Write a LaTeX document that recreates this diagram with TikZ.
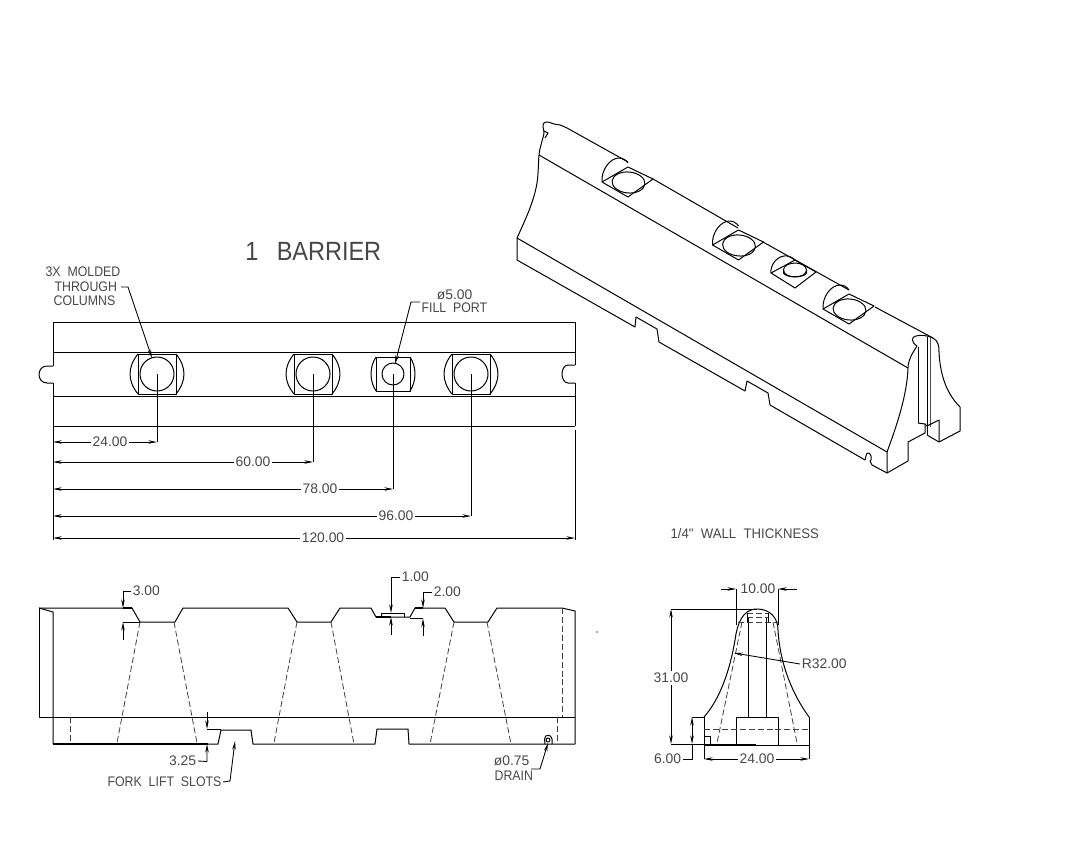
\documentclass[tikz,border=0pt]{standalone}
\usepackage{fontspec}
\usetikzlibrary{arrows.meta}
\setmainfont{Liberation Sans}
\newfontfamily\capsfont{Liberation Sans}[FakeStretch=0.89]
\newfontfamily\widecapsfont{Liberation Sans}[FakeStretch=0.95]
\newfontfamily\titlefont{Liberation Sans}[FakeStretch=0.89]
\tikzset{
  x=0.75pt,y=-0.75pt,
  ln/.style={line width=0.75pt,black,line join=round},
  thick ln/.style={line width=1.4pt,black},
  dsh/.style={line width=0.6pt,black!75,dash pattern=on 4.5pt off 2.2pt},
  dim/.style={line width=0.65pt,black},
  tip/.style={-{Stealth[length=6.5pt,width=2.6pt]}},
  tips/.style={{Stealth[length=6.5pt,width=2.6pt]}-{Stealth[length=6.5pt,width=2.6pt]}},
  num/.style={font=\fontsize{10.4}{12}\selectfont,text=black!72,inner sep=1.2pt},
  captxt/.style={font=\capsfont\fontsize{10.4}{12}\selectfont,text=black!72,inner sep=1pt},
  ttl/.style={font=\titlefont\fontsize{19.8}{22}\selectfont,text=black!72,inner sep=0pt}
}
\newcommand{\plancol}[5]{% cx, square half width, half height, arc x half, circle r
  \draw[ln] (#1-#2,374-#3) rectangle (#1+#2,374+#3);
  \draw[ln] (#1-#2,374-#3) .. controls ({#1-#2-(#4-#2)*1.33},367) and ({#1-#2-(#4-#2)*1.33},381) .. (#1-#2,374+#3);
  \draw[ln] (#1+#2,374-#3) .. controls ({#1+#2+(#4-#2)*1.33},367) and ({#1+#2+(#4-#2)*1.33},381) .. (#1+#2,374+#3);
  \draw[ln] (#1,374) circle [radius=#5];
}
\newcommand{\isocol}[2]{%
  \begin{scope}[shift={(#1,#2)}]
    \draw[ln] (602,182) -- (628,167) -- (653,179) -- (628,197) -- cycle;
    \draw[ln] (602,182) .. controls (601,170) and (610,158) .. (619,158) .. controls (623,158) and (626,160) .. (628,163);
    \draw[ln,shift={(628.5,182.5)},rotate=-5] (0,0) ellipse [x radius=16.5,y radius=10.5];
  \end{scope}
}
\begin{document}
\begin{tikzpicture}
\useasboundingbox (0,0) rectangle (1092,845);

%---------- isometric view
\draw[ln] plot[smooth,tension=.6] coordinates {(567,128) (560,125) (554,124) (548,122) (544,123) (543,127) (544,133) (541,145) (539,155) (537,183) (530,208) (517,238)};
\draw[ln] (544,131) -- (548,133) -- (545,138);
\draw[ln] (567,128) -- (628,162);
\draw[ln] (653,179) -- (738,228);
\draw[ln] (763,242) -- (849,290);
\draw[ln] (875,307) -- (933,338);
\draw[ln] (539,155) -- (908,368);
\draw[ln] (517,238) -- (887,452);
\draw[ln] (517,238) -- (517,260) -- (635,327) -- (636,317) -- (657,329) -- (659,342) -- (745,391) -- (747,381) -- (768,393) -- (770,405) -- (865,460);
\draw[ln] (865,460) -- (866,456) .. controls (866,452) and (870,452) .. (871,456) -- (871,460) -- (870,461) -- (872,465) -- (887,473) -- (887,452);
\isocol{0}{0}
\isocol{110.5}{63}
\isocol{221}{127}
% fill port
\draw[ln] (771,273) -- (795,260) -- (816,272) -- (795,288) -- cycle;
\draw[ln] (771,273) .. controls (770,266) and (776,257) .. (784,256) .. controls (788,255.5) and (792,257) .. (795,260);
\draw[ln] (795,270) ellipse [x radius=11.5,y radius=7];
\draw[ln] (783.5,270) -- (783.5,273) .. controls (785,278) and (805,278) .. (806.5,273) -- (806.5,270);
% near end profile
\draw[ln] (933,338) .. controls (927,335) and (920,335) .. (916,336) .. controls (911,337) and (911,342) .. (917,346) .. controls (913,352) and (908,360) .. (908,368) .. controls (907,395) and (897,425) .. (887,452);
\draw[ln] (887,473) -- (908,461) -- (908,442) -- (925,433) -- (925,424) -- (918,423);
\draw[ln] (918,347) -- (918,423);
\draw[ln] (927,337) -- (927,435);
\draw[line width=0.5pt,black!70] (930,338) -- (930,427);
\draw[ln] (925,424) -- (927,426) -- (939,420) -- (939,442);
\draw[ln] (927,435) -- (939,442) -- (960,431) -- (960,407);
\draw[ln] (933,338) .. controls (938,341) and (939,345) .. (939,352) .. controls (940,372) and (945,392) .. (960,407);

%---------- title
\node[ttl,anchor=west] (ttlnum) at (245,251) {1};
\node[ttl,anchor=west] (ttlword) at (276.5,251) {BARRIER};

%---------- top view
\draw[ln] (53,383) -- (53,540);
\draw[ln] (53,366) -- (53,322) -- (575,322) -- (575,365);
\draw[ln] (575,383) -- (575,426);
\draw[ln] (575,430) -- (575,540);
\draw[ln] (53,352) -- (575,352);
\draw[ln] (53,396) -- (575,396);
\draw[ln] (53,426) -- (575,426);
\draw[ln] (53,366) -- (47,366) .. controls (42,366) and (39,370) .. (39,374.5) .. controls (39,379) and (42,383) .. (47,383) -- (53,383);
\draw[ln] (575,365) -- (568,365) .. controls (564,365) and (562,370) .. (562,374) .. controls (562,378) and (564,383) .. (568,383) -- (575,383);
\plancol{157}{19}{20}{27}{17}
\plancol{313}{19}{20}{27}{17}
\plancol{393}{17}{17}{22}{11}
\plancol{471}{19}{20}{27}{17}

\node[num] (d24) at (110,442) {24.00};
\node[num] (d60) at (253,462) {60.00};
\node[num] (d78) at (320,489) {78.00};
\node[num] (d96) at (396,516) {96.00};
\node[num] (d120) at (323,538) {120.00};
\foreach \n/\xx/\yy in {d24/157/442,d60/313/462,d78/393/489,d96/471/516,d120/575/538}{
  \draw[dim,tip] (\n.west) -- (53,\yy);
  \draw[dim,tip] (\n.east) -- (\xx,\yy);
}
\draw[dim] (157,374) -- (157,442);
\draw[dim] (313,374) -- (313,462);
\draw[dim] (393,374) -- (393,489);
\draw[dim] (471,374) -- (471,516);

\node[captxt,anchor=west] (m1) at (44,272) {3X~~MOLDED};
\node[captxt,anchor=west] (m2) at (53,287) {THROUGH};
\node[captxt,anchor=west] (m3) at (52,301) {COLUMNS};
\draw[dim,tip] (121,287) -- (128,287) -- (152,358);
\node[num,anchor=west] (p1) at (435,295) {ø5.00};
\node[captxt,anchor=west] (p2) at (420,308) {FILL~~PORT};
\draw[dim,tip] (420,302) -- (411,302) -- (395,364);

%---------- front view
\draw[ln] (39,608) -- (132,608) -- (140,622) -- (175,622) -- (183,608) -- (288,608) -- (297,622) -- (331,622) -- (340,608) -- (371,608) -- (376,617) -- (410,617) -- (415,608) -- (445,608) -- (454,622) -- (488,622) -- (497,608) -- (562,608) -- (575,611) -- (575,744);
\draw[ln] (39,608) -- (39,717) -- (575,717);
\draw[ln] (39,608) -- (53,612) -- (53,744);
\draw[ln] (381,617) -- (381,613) -- (404,613) -- (404,617);
\draw[ln] (53,744) -- (218,744) -- (221,730) -- (251,730) -- (253,744) -- (375,744) -- (377,729) -- (408,729) -- (409,744) -- (575,744);
\draw[thick ln] (53,744) -- (208,744);
\draw[dsh] (70,717) -- (70,743);
\draw[dsh] (562,608) -- (562,717);
\draw[dsh] (557,717) -- (557,744);
\draw[dsh] (140,622) -- (117,743);
\draw[dsh] (174,622) -- (197,743);
\draw[dsh] (297,622) -- (274,743);
\draw[dsh] (331,622) -- (354,744);
\draw[dsh] (454,622) -- (430,744);
\draw[dsh] (487,622) -- (511,744);

\node[num,anchor=west] (t300) at (131,591) {3.00};
\draw[dim,tip] (t300.west) -- (123,591) -- (123,608);
\draw[thick ln] (123,608) -- (132,608);
\draw[dim] (123,622) -- (140,622);
\draw[dim,tip] (123,640) -- (123,622);

\node[num,anchor=east] (t325) at (198,761) {3.25};
\draw[dim,tip] (t325.east) -- (207,761.5) -- (207,744);
\draw[dim,tip] (207,712) -- (207,729);
\draw[dim] (207,729) -- (221,729);

\node[captxt,anchor=west] (fork) at (106,782) {FORK~~LIFT~~SLOTS};
\draw[dim,tip] (fork.east) -- (230,781) -- (235,741);

\node[num,anchor=west] (t100) at (400,577) {1.00};
\draw[dim,tip] (t100.west) -- (391,577) -- (391,613);
\draw[dim,tip] (391,635) -- (391,617);
\draw[thick ln] (376,617) -- (391,617);

\node[num,anchor=west] (t200) at (432,592) {2.00};
\draw[dim,tip] (t200.west) -- (423,592) -- (423,608);
\draw[thick ln] (415,608) -- (423,608);
\draw[dim] (410,618) -- (423,618);
\draw[dim,tip] (423,636) -- (423,618.5);

\draw[ln] (545,744) -- (544.5,739) .. controls (544.5,734) and (551.5,734) .. (552,739) -- (552,744);
\draw[ln] (548,740) circle [radius=2];
\node[num,anchor=west] (dr1) at (492,761) {ø0.75};
\node[captxt,anchor=west] (dr2) at (493,776) {DRAIN};
\draw[dim,tip] (531,769) -- (540,769) -- (548,743);

\fill[black!70] (597,632) circle [radius=0.9];

%---------- end view
\node[captxt,anchor=west,font=\widecapsfont\fontsize{10.4}{12}\selectfont] (wall) at (669,534) {1/4"~~WALL~~THICKNESS};
\draw[ln] (704,717) -- (704,745) -- (809,745) -- (809,717);
\draw[ln] (704,717) .. controls (720,699) and (730,670) .. (735,640) .. controls (737,625) and (742,609) .. (757,609) .. controls (770,609) and (778,618) .. (778,630) .. controls (780,665) and (793,695) .. (809,717);
\draw[ln] (736,745) -- (736,717) -- (778,717) -- (778,745);
\draw[ln] (748,618) -- (748,717);
\draw[ln] (766,618) -- (766,717);
\draw[dsh] (704,729) -- (809,729);
\draw[dsh] (738,622) -- (778,622);
\draw[dsh] (747,613) -- (768,613);
\draw[dsh] (747,617) -- (768,617);
\draw[ln] (747,613) -- (747,622);
\draw[ln] (768,613) -- (768,622);
\draw[dsh] (742,622) -- (717,743);
\draw[dsh] (773,622) -- (797,743);
\draw[ln] (704,736) -- (710,736) -- (710,744);
\draw[thick ln] (710,744.5) -- (756,744.5);

\node[num] (t1000) at (758,589) {10.00};
\draw[dim] (736,589) -- (736,625);
\draw[dim] (778,589) -- (778,625);
\draw[dim,tip] (721,589) -- (736,589);
\draw[dim,tip] (797,589) -- (778,589);

\node[num] (t3100) at (671,678) {31.00};
\draw[dim,tip] (t3100.north) -- (671,609);
\draw[dim,tip] (t3100.south) -- (671,744);
\draw[dim] (671,609) -- (757,609);
\draw[dim] (671,744) -- (710,744);

\node[num,anchor=east] (t600) at (683,759) {6.00};
\draw[dim] (692,717) -- (704,717);
\draw[dim,tips] (692,717) -- (692,744);
\draw[dim] (t600.east) -- (692,759) -- (692,744);

\node[num] (t2400) at (757,759) {24.00};
\draw[dim,tip] (t2400.west) -- (704,759);
\draw[dim,tip] (t2400.east) -- (809,759);
\draw[dim] (704,745) -- (704,759);
\draw[dim] (809,745) -- (809,759);

\node[num,anchor=west] (tr) at (800,664) {R32.00};
\draw[dim,tip] (tr.west) -- (734,653);
\end{tikzpicture}
\end{document}
